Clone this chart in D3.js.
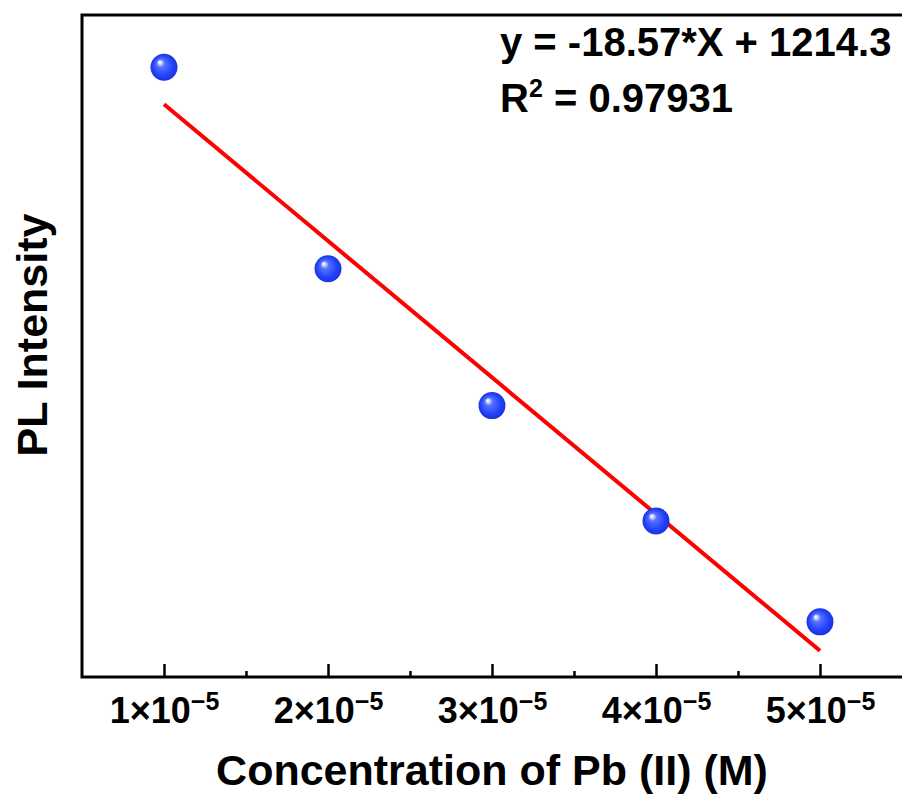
<!DOCTYPE html>
<html>
<head>
<meta charset="utf-8">
<script src="https://cdn.jsdelivr.net/npm/d3@7"></script>
<style>
  html, body { margin: 0; padding: 0; background: #fff; }
  svg { display: block; font-family: "Liberation Sans", Arial, sans-serif; font-weight: bold; }
</style>
</head>
<body>
<div id="chart"></div>
<script>
// data (concentration in M, PL intensity in a.u.)
let concentration = [1e-5, 2e-5, 3e-5, 4e-5, 5e-5];
let intensity = [1079, 805, 619, 462, 325];
let majorTicks = [1e-5, 2e-5, 3e-5, 4e-5, 5e-5];
let minorTicks = [1.5e-5, 2.5e-5, 3.5e-5, 4.5e-5];
let tickMantissa = ["1", "2", "3", "4", "5"];
// linear fit shown on the chart (X in µM)
let fitSlope = -18.57;
let fitIntercept = 1214.3;
let fitText = ["y = -18.57*X + 1214.3", "0.97931"];

let w = 902;
let h = 794;
let mLeft = 82, mRight = 902, mTop = 15, mBottom = 677;

let svg = d3.select("#chart").append("svg")
    .attr("width", w)
    .attr("height", h);

let defs = svg.append("defs");
let grad = defs.append("radialGradient")
    .attr("id", "ball")
    .attr("cx", "0.5").attr("cy", "0.5").attr("r", "0.5")
    .attr("fx", "0.33").attr("fy", "0.3");
grad.append("stop").attr("offset", "0%").attr("stop-color", "#ffffff");
grad.append("stop").attr("offset", "10%").attr("stop-color", "#e0e6ff");
grad.append("stop").attr("offset", "30%").attr("stop-color", "#5670ff");
grad.append("stop").attr("offset", "75%").attr("stop-color", "#2242fb");
grad.append("stop").attr("offset", "100%").attr("stop-color", "#1a32dc");

let x = d3.scaleLinear().domain([0.5e-5, 5.5e-5]).range([mLeft, mRight]);
let y = d3.scaleLinear().domain([250, 1150]).range([mBottom, mTop]);

// frame (right side runs off the canvas like the original)
svg.append("rect")
    .attr("x", mLeft).attr("y", mTop)
    .attr("width", mRight - mLeft + 4).attr("height", mBottom - mTop)
    .attr("fill", "none")
    .attr("stroke", "#000")
    .attr("stroke-width", 3);

// minor ticks
svg.append("g")
    .attr("transform", "translate(0," + mBottom + ")")
    .call(d3.axisBottom(x).tickValues(minorTicks).tickSize(-6).tickFormat(""))
    .call(g => g.select(".domain").remove())
    .call(g => g.selectAll("line").attr("stroke-width", 2.5));

// major ticks
let xAxis = svg.append("g")
    .attr("transform", "translate(0," + mBottom + ")")
    .call(d3.axisBottom(x).tickValues(majorTicks).tickSize(-13).tickPadding(0).tickFormat(""))
    .call(g => g.select(".domain").remove())
    .call(g => g.selectAll("line").attr("stroke-width", 2.5));

xAxis.selectAll(".tick text").remove();
xAxis.selectAll(".tick").each(function(d, i) {
    let t = d3.select(this).append("text")
        .attr("y", 46)
        .attr("fill", "#000")
        .attr("text-anchor", "middle")
        .style("font-size", "36px")
        .style("font-family", "'Liberation Sans', Arial, sans-serif")
        .style("font-weight", "bold");
    t.append("tspan").text(tickMantissa[i] + "\u00d710");
    t.append("tspan").attr("dy", -13).style("font-size", "25px").text("\u22125");
});

// fit line
let fitX = [concentration[0], concentration[concentration.length - 1]];
svg.append("line")
    .attr("x1", x(fitX[0])).attr("y1", y(fitSlope * fitX[0] * 1e6 + fitIntercept))
    .attr("x2", x(fitX[1])).attr("y2", y(fitSlope * fitX[1] * 1e6 + fitIntercept))
    .attr("stroke", "#ff0000")
    .attr("stroke-width", 4);

// points
svg.append("g").selectAll("circle")
    .data(concentration)
    .join("circle")
    .attr("cx", d => x(d))
    .attr("cy", (d, i) => y(intensity[i]))
    .attr("r", 13.5)
    .attr("fill", "url(#ball)");

// equation
svg.append("text")
    .attr("x", 500).attr("y", 56)
    .style("font-size", "40px")
    .text(fitText[0]);
let r2 = svg.append("text")
    .attr("x", 500).attr("y", 112)
    .style("font-size", "40px");
r2.append("tspan").text("R");
r2.append("tspan").attr("dy", -15).style("font-size", "25px").text("2");
r2.append("tspan").attr("dy", 15).text(" = " + fitText[1]);

// axis titles
svg.append("text")
    .attr("x", (mLeft + mRight) / 2).attr("y", 785)
    .attr("text-anchor", "middle")
    .style("font-size", "43px")
    .text("Concentration of Pb (II) (M)");

svg.append("text")
    .attr("transform", "translate(47,335) rotate(-90)")
    .attr("text-anchor", "middle")
    .style("font-size", "43px")
    .text("PL Intensity");
</script>
</body>
</html>
